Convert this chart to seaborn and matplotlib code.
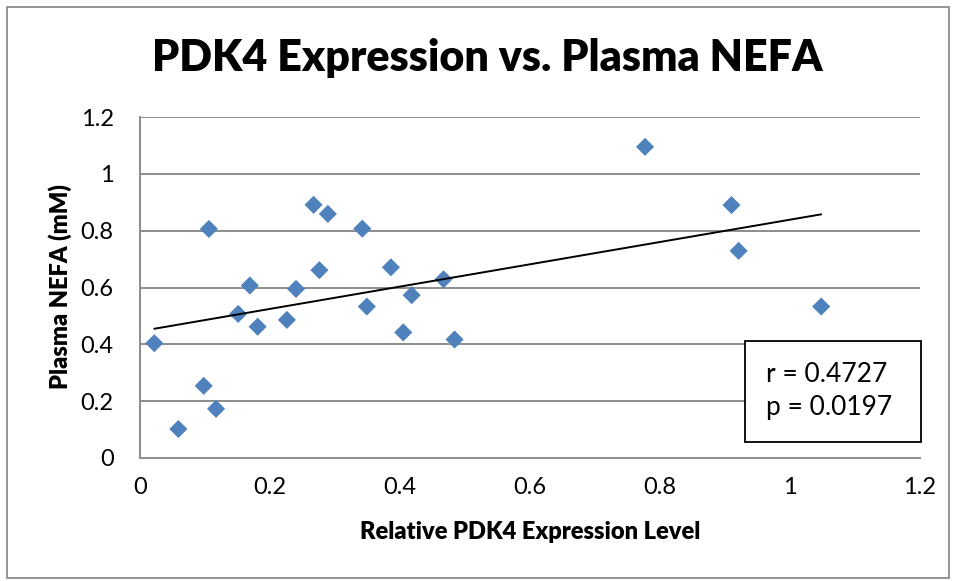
import matplotlib
matplotlib.use("Agg")
import matplotlib.pyplot as plt
import seaborn as sns
import pandas as pd
from matplotlib.patches import Rectangle

pdk4 = [0.022, 0.059, 0.098, 0.106, 0.117, 0.151, 0.169, 0.181, 0.226, 0.240,
        0.267, 0.276, 0.289, 0.342, 0.349, 0.386, 0.405, 0.418, 0.467, 0.484,
        0.777, 0.910, 0.921, 1.048]
nefa = [0.404, 0.102, 0.254, 0.806, 0.173, 0.507, 0.607, 0.462, 0.486, 0.595,
        0.891, 0.661, 0.859, 0.807, 0.533, 0.671, 0.442, 0.573, 0.629, 0.417,
        1.095, 0.890, 0.729, 0.533]
ticks = [0, 0.2, 0.4, 0.6, 0.8, 1.0, 1.2]
tick_labels = ["0", "0.2", "0.4", "0.6", "0.8", "1", "1.2"]
stats_text = "r = 0.4727\np = 0.0197"

df = pd.DataFrame({"x": pdk4, "y": nefa})

sns.set_style("white")
plt.rcParams["font.family"] = ["Lato", "DejaVu Sans"]
plt.rcParams["text.color"] = "black"

W, H = 957, 581
fig = plt.figure(figsize=(W / 100, H / 100), dpi=100)
ax = fig.add_axes([140 / W, 1 - 458 / H, 780 / W, 341 / H])

grid_c = "#8c8c8c"
for t in ticks[1:]:
    ax.axhline(t, color=grid_c, lw=1.4, zorder=0)

sns.regplot(data=df, x="x", y="y", ax=ax, ci=None, truncate=True,
            marker="D",
            scatter_kws=dict(s=85, color="#4F81BD", edgecolor="none", zorder=3, alpha=1),
            line_kws=dict(color="black", lw=1.4, zorder=4))

ax.set_xlim(0, 1.2)
ax.set_ylim(0, 1.2)
ax.set_xticks(ticks)
ax.set_xticklabels(tick_labels)
ax.set_yticks(ticks)
ax.set_yticklabels(tick_labels)
ax.tick_params(axis="both", which="both", direction="out", length=4, width=1.2,
               color=grid_c, labelsize=17, labelcolor="black")
ax.tick_params(axis="x", pad=10)
ax.tick_params(axis="y", pad=15)
for s in ["top", "right"]:
    ax.spines[s].set_visible(False)
for s in ["left", "bottom"]:
    ax.spines[s].set_color(grid_c)
    ax.spines[s].set_linewidth(1.4)

ax.set_xlabel("")
ax.set_ylabel("")
fig.text(530 / W, 1 - 532 / H, "Relative PDK4 Expression Level", ha="center", va="center",
         fontsize=17, fontweight="heavy", color="black")
fig.text(60 / W, 1 - 287 / H, "Plasma NEFA (mM)", ha="center", va="center",
         rotation=90, fontsize=17, fontweight="heavy", color="black")
fig.text(487 / W, 1 - 58 / H, "PDK4 Expression vs. Plasma NEFA", ha="center", va="center",
         fontsize=31, fontweight="heavy", color="black")

# stats box
bx0, by0 = (745 - 140) / 780, (458 - 442) / 341
bw, bh = (921 - 745) / 780, (442 - 341) / 341
ax.add_patch(Rectangle((bx0, by0), bw, bh, transform=ax.transAxes, facecolor="white",
                       edgecolor="black", lw=1.3, zorder=5, clip_on=False))
ax.text((766 - 140) / 780, (458 - 391) / 341, stats_text, transform=ax.transAxes,
        ha="left", va="center", fontsize=19, linespacing=1.45, zorder=6, color="black")

fig.add_artist(Rectangle((7 / W, 3 / H), (949 - 7) / W, (578 - 7) / H,
                         transform=fig.transFigure, fill=False, edgecolor="#8c8c8c", lw=1.3))

fig.savefig("out.png", dpi=100)
